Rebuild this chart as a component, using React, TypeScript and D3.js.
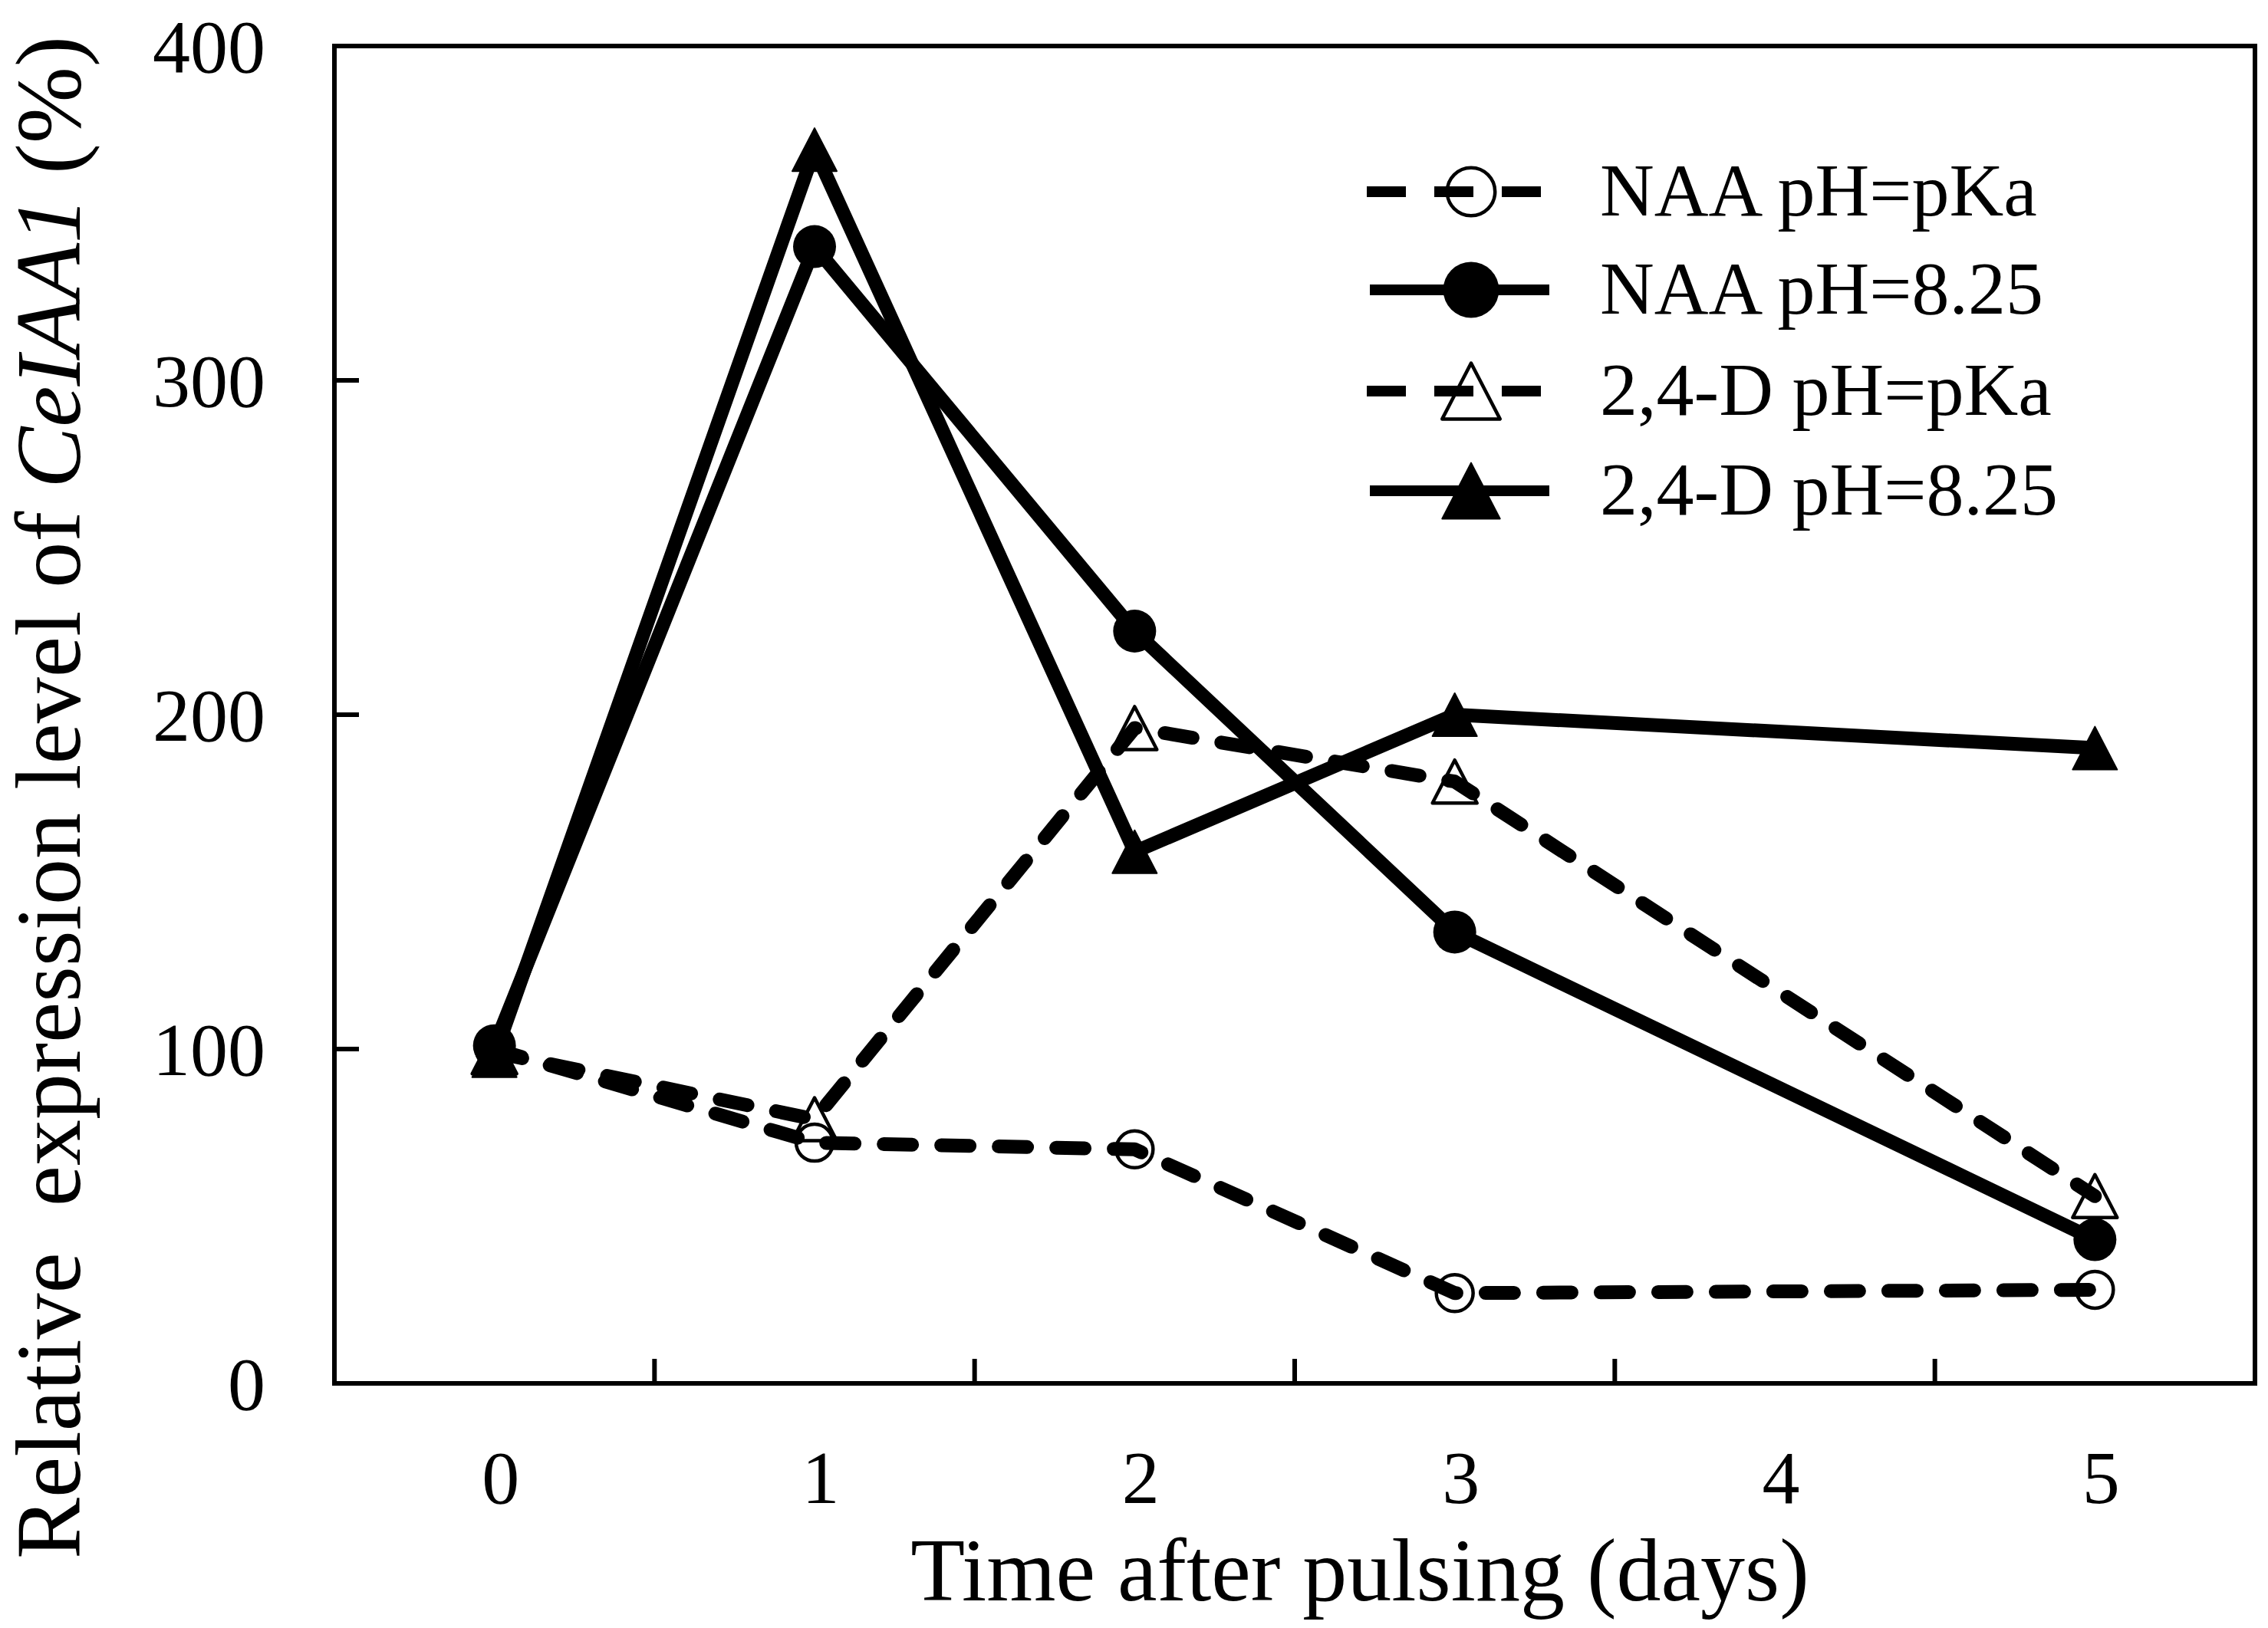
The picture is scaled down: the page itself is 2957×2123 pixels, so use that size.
import React, { useRef, useEffect } from "react";
import * as d3 from "d3";

// categories on the x axis (day 4 has no measurement)
const days = ["0", "1", "2", "3", "4", "5"];
const sampledDays = ["0", "1", "2", "3", "5"];

// relative expression level (%)
const naaPka = [100, 72, 70, 27, 28];
const naa825 = [101, 340, 225, 135, 43];
const d24Pka = [99, 79, 196, 180, 56];
const d24825 = [98, 369, 159, 200, 190];

const yTicks = [0, 100, 200, 300, 400];
const seriesLabels = ["NAA pH=pKa", "NAA pH=8.25", "2,4-D pH=pKa", "2,4-D pH=8.25"];

type MarkerKind = "circle" | "triangle";

interface Series {
  label: string;
  values: number[];
  dashed: boolean;
  marker: MarkerKind;
  filled: boolean;
}

const series: Series[] = [
  { label: seriesLabels[0], values: naaPka, dashed: true, marker: "circle", filled: false },
  { label: seriesLabels[2], values: d24Pka, dashed: true, marker: "triangle", filled: false },
  { label: seriesLabels[3], values: d24825, dashed: false, marker: "triangle", filled: true },
  { label: seriesLabels[1], values: naa825, dashed: false, marker: "circle", filled: true },
];

const legendOrder = [0, 3, 1, 2];

const width = 2957;
const height = 2123;
const plot = { left: 436, right: 2940, top: 60, bottom: 1804 };
const font = "'Liberation Serif', 'Times New Roman', serif";
const ink = "#000";

function trianglePath(w: number, h: number) {
  return `M0,${-h / 2}L${w / 2},${h / 2}L${-w / 2},${h / 2}Z`;
}

function drawMarker(
  g: d3.Selection<SVGGElement, unknown, null, undefined>,
  kind: MarkerKind,
  filled: boolean,
  x: number,
  y: number,
  scale: number
) {
  if (kind === "circle") {
    g.append("circle")
      .attr("cx", x)
      .attr("cy", y)
      .attr("r", (filled ? 28 : 24) * scale)
      .attr("fill", filled ? ink : "none")
      .attr("stroke", ink)
      .attr("stroke-width", filled ? 0 : 4.5);
  } else {
    g.append("path")
      .attr("transform", `translate(${x},${y})`)
      .attr("d", trianglePath(58 * scale, 56 * scale))
      .attr("fill", filled ? ink : "none")
      .attr("stroke", ink)
      .attr("stroke-linejoin", "round")
      .attr("stroke-width", filled ? 2 : 4.5);
  }
}

export default function App() {
  const svgRef = useRef<SVGSVGElement>(null);

  useEffect(() => {
    if (!svgRef.current) return;
    const svg = d3.select(svgRef.current);
    svg.selectAll("*").remove();

    const x = d3.scaleBand<string>().domain(days).range([plot.left, plot.right]).padding(0);
    const y = d3.scaleLinear().domain([0, 400]).range([plot.bottom, plot.top]);
    const cx = (d: string) => (x(d) ?? 0) + x.bandwidth() / 2;

    const g = svg.append("g");

    // Frame
    g.append("rect")
      .attr("x", plot.left)
      .attr("y", plot.top)
      .attr("width", plot.right - plot.left)
      .attr("height", plot.bottom - plot.top)
      .attr("fill", "none")
      .attr("stroke", ink)
      .attr("stroke-width", 6);

    // Y ticks (inward) and labels
    yTicks.forEach((t) => {
      if (t > 0 && t < 400) {
        g.append("line")
          .attr("x1", plot.left)
          .attr("x2", plot.left + 32)
          .attr("y1", y(t))
          .attr("y2", y(t))
          .attr("stroke", ink)
          .attr("stroke-width", 6);
      }
      g.append("text")
        .attr("x", 346)
        .attr("y", y(t) + 34)
        .attr("text-anchor", "end")
        .attr("font-family", font)
        .attr("font-size", 98)
        .attr("fill", ink)
        .text(String(t));
    });

    // X ticks at category boundaries (inward) and labels
    days.forEach((d, i) => {
      if (i > 0) {
        g.append("line")
          .attr("x1", x(d) ?? 0)
          .attr("x2", x(d) ?? 0)
          .attr("y1", plot.bottom)
          .attr("y2", plot.bottom - 32)
          .attr("stroke", ink)
          .attr("stroke-width", 6);
      }
      g.append("text")
        .attr("x", cx(d) + 8)
        .attr("y", 1960)
        .attr("text-anchor", "middle")
        .attr("font-family", font)
        .attr("font-size", 98)
        .attr("fill", ink)
        .text(d);
    });

    // Axis titles
    g.append("text")
      .attr("x", 1773)
      .attr("y", 2087)
      .attr("text-anchor", "middle")
      .attr("font-family", font)
      .attr("font-size", 116)
      .attr("fill", ink)
      .text("Time after pulsing (days)");

    const yTitle = g.append("text")
      .attr("transform", "translate(104,1040) rotate(-90)")
      .attr("text-anchor", "middle")
      .attr("font-family", font)
      .attr("font-size", 120)
      .attr("fill", ink);
    yTitle.append("tspan").text("Relative");
    yTitle.append("tspan").attr("dx", 30).text(" expression level of ");
    yTitle.append("tspan").attr("font-style", "italic").text("CeIAA1");
    yTitle.append("tspan").text(" (%)");

    // Data lines and markers
    const lineGen = d3.line<number>()
      .x((_v, i) => cx(sampledDays[i]))
      .y((v) => y(v));

    series.forEach((s) => {
      s.values.forEach((v, i) => drawMarker(g, s.marker, s.filled, cx(sampledDays[i]), y(v), 1));
      g.append("path")
        .datum(s.values)
        .attr("d", lineGen)
        .attr("fill", "none")
        .attr("stroke", ink)
        .attr("stroke-width", 18)
        .attr("stroke-linejoin", "round")
        .attr("stroke-linecap", "round")
        .attr("stroke-dasharray", s.dashed ? "37 38" : null);
    });

    // Legend
    const legendY = [250, 378, 510, 640];
    legendOrder.forEach((si, row) => {
      const s = series[si];
      const ly = legendY[row];
      g.append("line")
        .attr("x1", s.dashed ? 1782 : 1786)
        .attr("x2", s.dashed ? 2009 : 2020)
        .attr("y1", ly)
        .attr("y2", ly)
        .attr("stroke", ink)
        .attr("stroke-width", 14)
        .attr("stroke-dasharray", s.dashed ? "51 37" : null);
      drawMarker(g, s.marker, s.filled, 1918, ly, 1.3);
      g.append("text")
        .attr("x", 2086)
        .attr("y", ly + 31)
        .attr("font-family", font)
        .attr("font-size", 98)
        .attr("fill", ink)
        .text(s.label);
    });
  }, []);

  return (
    <div style={{ position: "absolute", left: 0, top: 0 }}>
      <svg
        ref={svgRef}
        width={width}
        height={height}
        style={{ display: "block", background: "#fff" }}
      />
    </div>
  );
}
